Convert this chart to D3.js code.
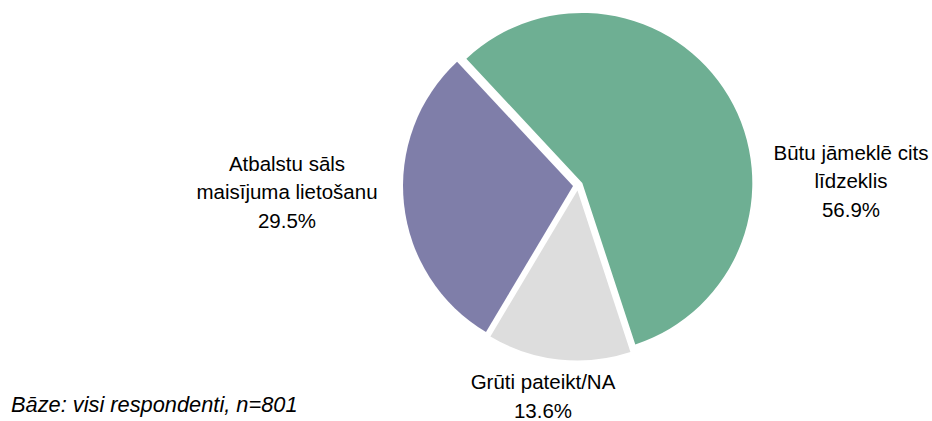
<!DOCTYPE html>
<html>
<head>
<meta charset="utf-8">
<script src="https://cdn.jsdelivr.net/npm/d3@7"></script>
<style>
  html, body { margin: 0; padding: 0; background: #ffffff; }
  svg { display: block; }
  text { font-family: "Liberation Sans", Arial, sans-serif; fill: #000; }
</style>
</head>
<body>
<svg id="chart" width="932" height="421"></svg>
<script>
// ---- data ----
const categories = ["Būtu jāmeklē cits līdzeklis", "Grūti pateikt/NA", "Atbalstu sāls maisījuma lietošanu"];
const labelLines = [["Būtu jāmeklē cits", "līdzeklis"], ["Grūti pateikt/NA"], ["Atbalstu sāls", "maisījuma lietošanu"]];
const values = [56.9, 13.6, 29.5];
const colors = ["#6eaf93", "#dddddd", "#7f7ea9"];
const footnote = "Bāze: visi respondenti, n=801";

// ---- layout ----
const W = 932, H = 421;
const cx = 578, cy = 185.5, R = 170, explode = 5;
const startDeg = -43;
const labelPos = [[851, 152], [543, 381.5], [287, 163]];
const lineH = 28.5;
const fontSize = 20.5;
const footSize = 21.8;

const svg = d3.select("#chart");

const pie = d3.pie().sort(null).value(d => d)
  .startAngle(startDeg * Math.PI / 180)
  .endAngle(startDeg * Math.PI / 180 + 2 * Math.PI);
const arcs = pie(values);
const arc = d3.arc().innerRadius(0).outerRadius(R);

const g = svg.append("g").attr("transform", `translate(${cx},${cy})`);
g.selectAll("path").data(arcs).join("path")
  .attr("d", arc)
  .attr("fill", (d, i) => colors[i])
  .attr("transform", d => {
    const a = (d.startAngle + d.endAngle) / 2;
    return `translate(${explode * Math.sin(a)},${-explode * Math.cos(a)})`;
  });

// labels
arcs.forEach((d, i) => {
  const [x, y] = labelPos[i];
  const lines = labelLines[i].concat([d3.format(".1f")(values[i]) + "%"]);
  const t = svg.append("text")
    .attr("text-anchor", "middle")
    .attr("font-size", fontSize);
  lines.forEach((ln, j) => {
    t.append("tspan").attr("x", x).attr("y", y + j * lineH)
      .attr("dominant-baseline", "central").text(ln);
  });
});

svg.append("text")
  .attr("x", 11).attr("y", 404)
  .attr("dominant-baseline", "central")
  .attr("font-size", footSize)
  .attr("font-style", "italic")
  .text(footnote);
</script>
</body>
</html>
